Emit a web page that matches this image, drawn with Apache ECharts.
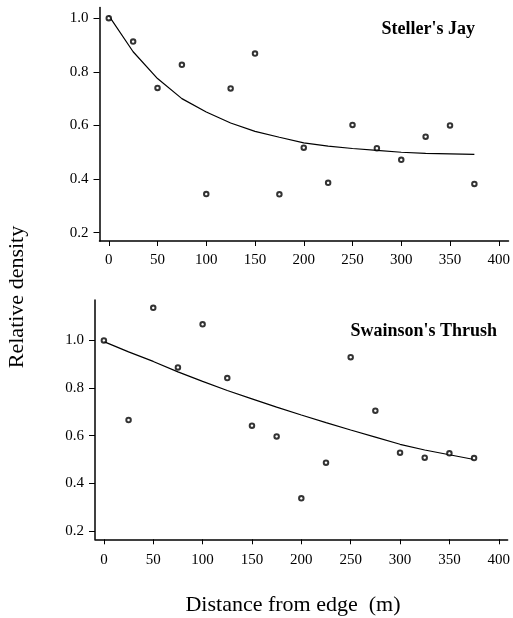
<!DOCTYPE html>
<html>
<head>
<meta charset="utf-8">
<title>Relative density vs distance from edge</title>
<script src="https://cdn.jsdelivr.net/npm/echarts@6/dist/echarts.min.js"></script>
<style>
    html, body { margin: 0; padding: 0; background: #fff; }
    #chart { width: 513px; height: 618px; }
</style>
</head>
<body>
<div id="chart"></div>
<script>
// Distances (m) where densities were sampled
const distance = [0, 25, 50, 75, 100, 125, 150, 175, 200, 225, 250, 275, 300, 325, 350, 375];

// Steller's Jay - observed points and fitted curve
const jayObserved = [1.00, 0.913, 0.74, 0.826, 0.344, 0.738, 0.868, 0.343, 0.517, 0.386, 0.602, 0.515, 0.472, 0.558, 0.60, 0.382];
const jayFitted = [1.01, 0.875, 0.775, 0.70, 0.650, 0.609, 0.578, 0.556, 0.535, 0.523, 0.514, 0.507, 0.50, 0.496, 0.494, 0.492];

// Swainson's Thrush - observed points and fitted curve
const thrushObserved = [1.00, 0.666, 1.137, 0.887, 1.068, 0.842, 0.642, 0.597, 0.337, 0.487, 0.93, 0.705, 0.529, 0.508, 0.526, 0.506];
const thrushFitted = [0.995, 0.952, 0.912, 0.868, 0.828, 0.79, 0.755, 0.72, 0.687, 0.655, 0.624, 0.594, 0.564, 0.54, 0.52, 0.50];

const xTicks = [0, 50, 100, 150, 200, 250, 300, 350, 400];
const yTicks = [0.2, 0.4, 0.6, 0.8, 1.0];

const serif = '"Liberation Serif", "DejaVu Serif", serif';

function pairs(xs, ys) {
    return xs.map((x, i) => [x, ys[i]]);
}

function xAxisFor(gridIndex, min, max, labelMargin) {
    return {
        type: 'value',
        gridIndex: gridIndex,
        min: min,
        max: max,
        splitLine: { show: false },
        axisLine: { show: true, onZero: false, lineStyle: { color: '#000', width: 1.5 } },
        axisTick: { show: true, length: 5, customValues: xTicks, lineStyle: { color: '#000', width: 1 } },
        axisLabel: {
            customValues: xTicks,
            margin: labelMargin,
            color: '#000',
            fontFamily: serif,
            fontSize: 15
        }
    };
}

function yAxisFor(gridIndex, min, max) {
    return {
        type: 'value',
        gridIndex: gridIndex,
        min: min,
        max: max,
        splitLine: { show: false },
        axisLine: { show: true, onZero: false, lineStyle: { color: '#000', width: 1.5 } },
        axisTick: { show: true, length: 6, customValues: yTicks, lineStyle: { color: '#000', width: 1 } },
        axisLabel: {
            customValues: yTicks,
            margin: 11,
            color: '#000',
            fontFamily: serif,
            fontSize: 15,
            formatter: v => v.toFixed(1)
        }
    };
}

function scatterSeries(idx, values) {
    // emptyCircle: white fill, stroke in item colour
    return {
        type: 'scatter',
        xAxisIndex: idx,
        yAxisIndex: idx,
        data: pairs(distance, values),
        symbol: 'emptyCircle',
        symbolSize: 4.5,
        itemStyle: { color: '#000', borderWidth: 1 },
        z: 3
    };
}

function curveSeries(idx, values) {
    return {
        type: 'line',
        xAxisIndex: idx,
        yAxisIndex: idx,
        data: pairs(distance, values),
        showSymbol: false,
        symbol: 'none',
        smooth: false,
        lineStyle: { color: '#000', width: 1.2 },
        z: 2
    };
}

const chart = echarts.init(document.getElementById('chart'), null, { renderer: 'canvas' });

const option = {
    animation: false,
    backgroundColor: '#fff',
    title: [
        {
            text: "Steller's Jay",
            right: 33,
            top: 15,
            textStyle: { fontFamily: serif, fontSize: 18, fontWeight: 'bold', color: '#000' }
        },
        {
            text: "Swainson's Thrush",
            right: 11,
            top: 317,
            textStyle: { fontFamily: serif, fontSize: 18, fontWeight: 'bold', color: '#000' }
        }
    ],
    grid: [
        { left: 99.5, top: 7.5, width: 413.5, height: 233.5 },
        { left: 95, top: 300, width: 418, height: 239.3 }
    ],
    xAxis: [
        xAxisFor(0, -9.5, 410, 12),
        xAxisFor(1, -9, 409, 13)
    ],
    yAxis: [
        yAxisFor(0, 0.169, 1.04),
        yAxisFor(1, 0.165, 1.17)
    ],
    graphic: [
        {
            type: 'text',
            x: 17,
            y: 297,
            rotation: Math.PI / 2,
            style: {
                text: 'Relative density',
                fontFamily: serif,
                fontSize: 22,
                fill: '#000',
                align: 'center',
                verticalAlign: 'middle'
            }
        },
        {
            type: 'text',
            x: 293,
            y: 605,
            style: {
                text: 'Distance from edge  (m)',
                fontFamily: serif,
                fontSize: 22,
                fill: '#000',
                align: 'center',
                verticalAlign: 'middle'
            }
        }
    ],
    series: [
        curveSeries(0, jayFitted),
        scatterSeries(0, jayObserved),
        curveSeries(1, thrushFitted),
        scatterSeries(1, thrushObserved)
    ]
};

chart.setOption(option);
</script>
</body>
</html>
